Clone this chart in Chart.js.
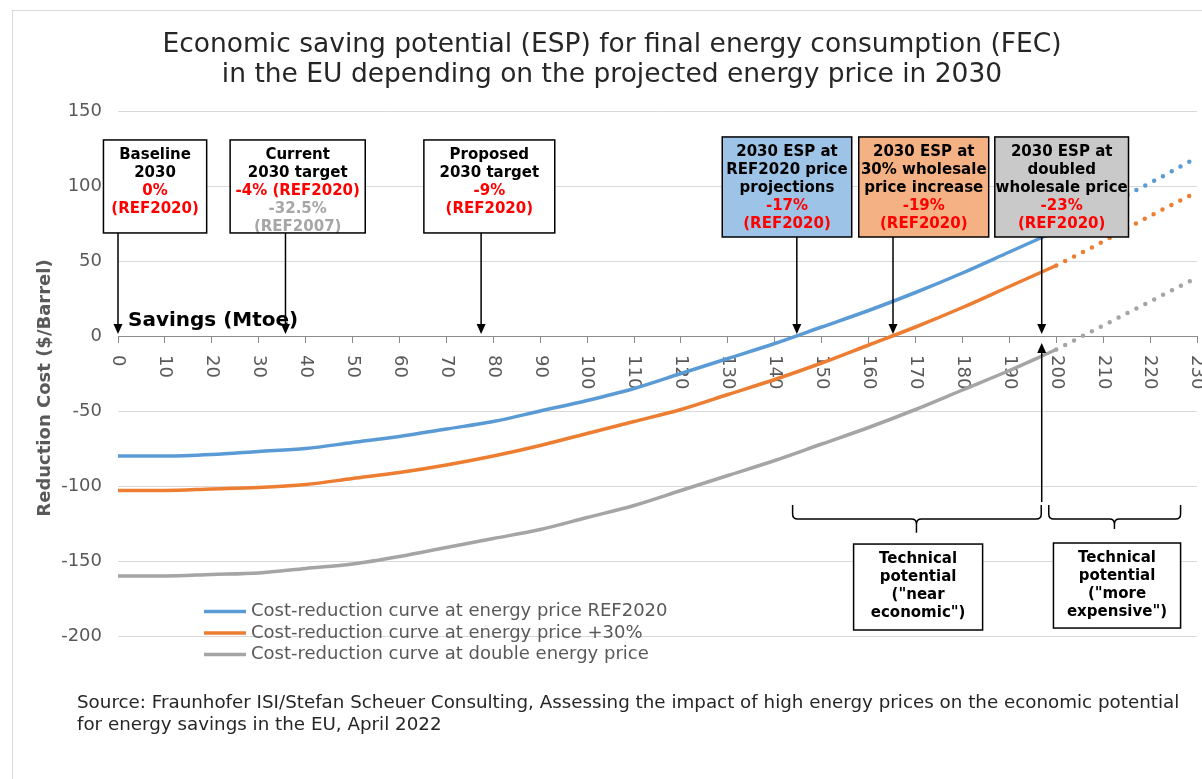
<!DOCTYPE html>
<html>
<head>
<meta charset="utf-8">
<script src="https://cdn.jsdelivr.net/npm/chart.js@4.4.1/dist/chart.umd.min.js"></script>
<style>
  html, body { margin: 0; padding: 0; background: #fff; }
</style>
</head>
<body>
<canvas id="chart" width="1202" height="779"></canvas>
<script>
// savings (Mtoe) and reduction cost ($/barrel)
const savings = [0, 10, 20, 30, 40, 50, 60, 70, 80, 90, 100, 110, 120, 130, 140, 150, 160, 170, 180, 190, 200];
const costRef2020 = [-80, -80, -79, -77, -75, -71, -67, -62, -57, -50, -43, -35, -25, -15, -5, 6, 17, 29, 42, 56, 70];
const costPlus30 = [-103, -103, -102, -101, -99, -95, -91, -86, -80, -73, -65, -57, -49, -39, -29, -18, -6, 6, 19, 33, 47];
const costDouble = [-160, -160, -159, -158, -155, -152, -147, -141, -135, -129, -121, -113, -103, -93, -83, -72, -61, -49, -36, -23, -9];

// "more expensive" part of the curves, drawn dotted
const savingsDotted = [200, 210, 220, 230];
const costRef2020Dotted = [70, 86, 102, 119];
const costPlus30Dotted = [47, 63, 80, 96];
const costDoubleDotted = [-9, 7, 23, 39];

const seriesLabels = [
  'Cost-reduction curve at energy price REF2020',
  'Cost-reduction curve at energy price +30%',
  'Cost-reduction curve at double energy price'
];
const seriesColors = ['#5b9bd5', '#ed7d31', '#a5a5a5'];

const titleLines = [
  'Economic saving potential (ESP) for final energy consumption (FEC)',
  'in the EU depending on the projected energy price in 2030'
];
const sourceLines = [
  'Source: Fraunhofer ISI/Stefan Scheuer Consulting, Assessing the impact of high energy prices on the economic potential',
  'for energy savings in the EU, April 2022'
];

const FONT = "'DejaVu Sans', Verdana, sans-serif";
const INK = '#000000', RED = '#ff0000', GREY = '#a6a6a6';

// callout boxes, in axis units (savings / $ per barrel)
const boxes = [
  { x: [-3.1, 18.9], y: [130.7, 68.7], fill: '#ffffff',
    lines: [['Baseline', INK], ['2030', INK], ['0%', RED], ['(REF2020)', RED]] },
  { x: [23.9, 52.7], y: [130.7, 68.7], fill: '#ffffff',
    lines: [['Current', INK], ['2030 target', INK], ['-4% (REF2020)', RED], ['-32.5%', GREY], ['(REF2007)', GREY]] },
  { x: [65.2, 93.1], y: [130.7, 68.7], fill: '#ffffff',
    lines: [['Proposed', INK], ['2030 target', INK], ['-9%', RED], ['(REF2020)', RED]] },
  { x: [128.8, 156.4], y: [132.7, 66], fill: '#9dc3e6',
    lines: [['2030 ESP at', INK], ['REF2020 price', INK], ['projections', INK], ['-17%', RED], ['(REF2020)', RED]] },
  { x: [157.9, 185.6], y: [132.7, 66], fill: '#f4b183',
    lines: [['2030 ESP at', INK], ['30% wholesale', INK], ['price increase', INK], ['-19%', RED], ['(REF2020)', RED]] },
  { x: [186.9, 215.4], y: [132.7, 66], fill: '#c9c9c9',
    lines: [['2030 ESP at', INK], ['doubled', INK], ['wholesale price', INK], ['-23%', RED], ['(REF2020)', RED]] },
  { x: [156.8, 184.3], y: [-138.7, -196], fill: '#ffffff',
    lines: [['Technical', INK], ['potential', INK], ['("near', INK], ['economic")', INK]] },
  { x: [199.4, 226.5], y: [-138, -194.7], fill: '#ffffff',
    lines: [['Technical', INK], ['potential', INK], ['("more', INK], ['expensive")', INK]] }
];
const downArrows = [
  { x: 0, from: 68.7 }, { x: 35.7, from: 68.7 }, { x: 77.4, from: 68.7 },
  { x: 144.7, from: 66 }, { x: 165.2, from: 66 }, { x: 196.9, from: 66 }
];
const braces = [
  { x: [143.8, 196.8], mid: 170.2, top: -112.7, bar: -122, tip: -131.1 },
  { x: [198.4, 226.5], mid: 212.4, top: -112.7, bar: -122, tip: -128.7 }
];

const toPoints = (xs, ys) => xs.map((v, i) => ({ x: v, y: ys[i] }));

function drawArrow(ctx, xp, yFrom, yTip) {
  const dir = Math.sign(yTip - yFrom);
  ctx.beginPath();
  ctx.moveTo(xp, yFrom);
  ctx.lineTo(xp, yTip - dir * 8);
  ctx.stroke();
  ctx.beginPath();
  ctx.moveTo(xp, yTip);
  ctx.lineTo(xp - 4.5, yTip - dir * 10);
  ctx.lineTo(xp + 4.5, yTip - dir * 10);
  ctx.closePath();
  ctx.fill();
}

function drawBrace(ctx, x0, x1, xc, top, bar, tip) {
  const r = 5;
  ctx.beginPath();
  ctx.moveTo(x0, top);
  ctx.lineTo(x0, bar - r);
  ctx.quadraticCurveTo(x0, bar, x0 + r, bar);
  ctx.lineTo(xc - r, bar);
  ctx.quadraticCurveTo(xc, bar, xc, bar + r);
  ctx.lineTo(xc, tip);
  ctx.moveTo(xc, bar + r);
  ctx.quadraticCurveTo(xc, bar, xc + r, bar);
  ctx.lineTo(x1 - r, bar);
  ctx.quadraticCurveTo(x1, bar, x1, bar - r);
  ctx.lineTo(x1, top);
  ctx.stroke();
}

const decorations = {
  id: 'decorations',
  beforeDraw(chart) {
    const { ctx } = chart;
    ctx.save();
    ctx.strokeStyle = '#d9d9d9';
    ctx.lineWidth = 1;
    ctx.strokeRect(12.5, 10.5, 1300, 900);
    ctx.fillStyle = '#262626';
    ctx.font = `26.5px ${FONT}`;
    ctx.textAlign = 'center';
    ctx.textBaseline = 'middle';
    titleLines.forEach((t, i) => ctx.fillText(t, 612, 45 + i * 30));
    ctx.restore();
  },
  beforeDatasetsDraw(chart) {
    const { ctx, scales: { x, y } } = chart;
    ctx.save();
    // rotated savings labels, reading downwards
    ctx.font = `18px ${FONT}`;
    ctx.fillStyle = '#595959';
    ctx.textAlign = 'left';
    ctx.textBaseline = 'middle';
    x.ticks.forEach(t => {
      ctx.save();
      ctx.translate(x.getPixelForValue(t.value), y.getPixelForValue(0) + 19);
      ctx.rotate(Math.PI / 2);
      ctx.fillText(String(t.value), 0, 0);
      ctx.restore();
    });
    // y title
    ctx.save();
    ctx.translate(45, 388);
    ctx.rotate(-Math.PI / 2);
    ctx.font = `bold 18px ${FONT}`;
    ctx.textAlign = 'center';
    ctx.fillText('Reduction Cost ($/Barrel)', 0, 0);
    ctx.restore();
    ctx.restore();
  },
  afterDatasetsDraw(chart) {
    const { ctx, scales: { x, y } } = chart;
    ctx.save();
    ctx.strokeStyle = '#000';
    ctx.fillStyle = '#000';
    ctx.lineWidth = 1.5;
    const axisY = y.getPixelForValue(0);
    downArrows.forEach(a => drawArrow(ctx, x.getPixelForValue(a.x), y.getPixelForValue(a.from), axisY - 2));
    drawArrow(ctx, x.getPixelForValue(196.9), y.getPixelForValue(-110.7), axisY + 7);
    braces.forEach(b => drawBrace(ctx, x.getPixelForValue(b.x[0]), x.getPixelForValue(b.x[1]),
      x.getPixelForValue(b.mid), y.getPixelForValue(b.top), y.getPixelForValue(b.bar), y.getPixelForValue(b.tip)));

    boxes.forEach(b => {
      const l = x.getPixelForValue(b.x[0]), r = x.getPixelForValue(b.x[1]);
      const t = y.getPixelForValue(b.y[0]), btm = y.getPixelForValue(b.y[1]);
      ctx.fillStyle = b.fill;
      ctx.fillRect(l, t, r - l, btm - t);
      ctx.font = `bold 15px ${FONT}`;
      ctx.textAlign = 'center';
      ctx.textBaseline = 'middle';
      b.lines.forEach(([txt, col], i) => {
        ctx.fillStyle = col;
        ctx.fillText(txt, (l + r) / 2, t + 15.5 + i * 18);
      });
      ctx.strokeStyle = '#000';
      ctx.lineWidth = 1.5;
      ctx.strokeRect(l, t, r - l, btm - t);
    });

    ctx.fillStyle = '#000';
    ctx.font = `bold 20px ${FONT}`;
    ctx.textAlign = 'left';
    ctx.textBaseline = 'alphabetic';
    ctx.fillText('Savings (Mtoe)', x.getPixelForValue(0) + 10, axisY - 10);
    ctx.restore();
  },
  afterDraw(chart) {
    const { ctx } = chart;
    ctx.save();
    // legend
    ctx.font = `18px ${FONT}`;
    ctx.textAlign = 'left';
    ctx.textBaseline = 'middle';
    seriesLabels.forEach((lab, i) => {
      const yy = 611.5 + i * 21.5;
      ctx.strokeStyle = seriesColors[i];
      ctx.lineWidth = 3.5;
      ctx.beginPath();
      ctx.moveTo(204, yy);
      ctx.lineTo(246, yy);
      ctx.stroke();
      ctx.fillStyle = '#595959';
      ctx.fillText(lab, 251, yy);
    });
    // source
    ctx.fillStyle = '#262626';
    ctx.font = `18.3px ${FONT}`;
    sourceLines.forEach((s, i) => ctx.fillText(s, 77, 703 + i * 22));
    ctx.restore();
  }
};

const solid = (i, ys) => ({
  label: seriesLabels[i],
  data: toPoints(savings, ys),
  borderColor: seriesColors[i],
  borderWidth: 3.5,
  pointRadius: 0,
  cubicInterpolationMode: 'monotone',
  fill: false
});
const dotted = (i, ys) => ({
  label: seriesLabels[i] + ' (dotted)',
  data: toPoints(savingsDotted, ys),
  borderColor: seriesColors[i],
  borderWidth: 4.5,
  borderDash: [0, 10],
  borderCapStyle: 'round',
  pointRadius: 0,
  cubicInterpolationMode: 'monotone',
  fill: false
});

new Chart(document.getElementById('chart'), {
  type: 'line',
  data: {
    datasets: [
      solid(0, costRef2020), solid(1, costPlus30), solid(2, costDouble),
      dotted(0, costRef2020Dotted), dotted(1, costPlus30Dotted), dotted(2, costDoubleDotted)
    ]
  },
  options: {
    responsive: false,
    animation: false,
    devicePixelRatio: 1,
    layout: { padding: { left: 0, right: 5, top: 111, bottom: 143 } },
    plugins: {
      legend: { display: false },
      title: { display: false },
      tooltip: { enabled: false }
    },
    scales: {
      x: {
        type: 'linear',
        min: 0,
        max: 230,
        position: { y: 0 },
        ticks: { display: false, stepSize: 10 },
        grid: { drawOnChartArea: false, drawTicks: true, tickLength: 6, color: '#8c8c8c' },
        border: { color: '#8c8c8c', width: 1 }
      },
      y: {
        min: -200,
        max: 150,
        afterFit(scale) { scale.width = 118; },
        ticks: { stepSize: 50, color: '#595959', font: { family: FONT, size: 18 }, padding: 16 },
        grid: {
          drawTicks: false,
          color: ctx => ctx.tick && ctx.tick.value === 0 ? 'rgba(0,0,0,0)' : '#d9d9d9'
        },
        border: { display: false }
      }
    }
  },
  plugins: [decorations]
});
</script>
</body>
</html>
